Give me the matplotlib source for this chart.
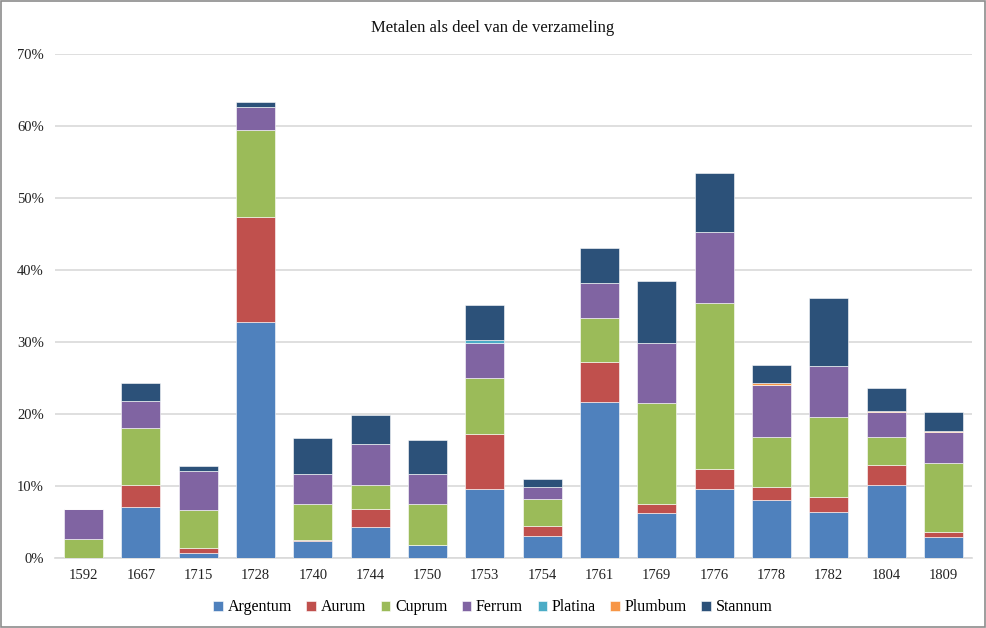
import matplotlib.pyplot as plt
from matplotlib.patches import Rectangle
import numpy as np

years = ['1592', '1667', '1715', '1728', '1740', '1744', '1750', '1753',
         '1754', '1761', '1769', '1776', '1778', '1782', '1804', '1809']

# percentages of the collection
argentum = [0.0, 7.1, 0.75, 32.8, 2.3, 4.25, 1.85, 9.6, 3.0, 21.6, 6.2, 9.6, 8.0, 6.35, 10.2, 2.9]
aurum    = [0.0, 3.1, 0.7, 14.6, 0.25, 2.6, 0.0, 7.6, 1.4, 5.6, 1.3, 2.7, 1.9, 2.15, 2.75, 0.75]
cuprum   = [2.6, 7.8, 5.25, 12.1, 4.95, 3.25, 5.65, 7.75, 3.8, 6.2, 14.0, 23.1, 6.9, 11.1, 3.85, 9.55]
ferrum   = [4.2, 3.8, 5.35, 3.2, 4.15, 5.8, 4.15, 4.95, 1.7, 4.8, 8.3, 9.9, 7.25, 7.1, 3.5, 4.3]
platina  = [0, 0, 0, 0, 0, 0, 0, 0.4, 0, 0, 0, 0, 0, 0, 0, 0]
plumbum  = [0, 0, 0, 0, 0, 0, 0, 0, 0, 0, 0, 0, 0.2, 0, 0.15, 0.2]
stannum  = [0.0, 2.55, 0.7, 0.6, 4.95, 4.0, 4.8, 4.8, 1.1, 4.9, 8.7, 8.2, 2.55, 9.4, 3.15, 2.6]

series = [('Argentum', argentum, '#4F81BD'),
          ('Aurum', aurum, '#C0504D'),
          ('Cuprum', cuprum, '#9BBB59'),
          ('Ferrum', ferrum, '#8064A2'),
          ('Platina', platina, '#4BACC6'),
          ('Plumbum', plumbum, '#F79646'),
          ('Stannum', stannum, '#2C5179')]

plt.rcParams['font.family'] = ['Liberation Serif', 'DejaVu Serif']

fig = plt.figure(figsize=(9.86, 6.28), dpi=100)
ax = fig.add_axes([0.0558, 0.1115, 0.93, 0.8025])

x = np.arange(len(years))
bottom = np.zeros(len(years))
for name, vals, col in series:
    v = np.array(vals) / 100
    ax.bar(x, v, width=0.68, bottom=bottom, color=col, label=name,
           edgecolor='#FFFFFF', linewidth=0.4, zorder=3)
    bottom += v

ax.set_xlim(-0.5, len(years) - 0.5)
ax.set_ylim(0, 0.70)
ax.set_yticks(np.arange(0, 0.71, 0.10))
ax.set_yticklabels([f'{int(round(t * 100))}%' for t in np.arange(0, 0.71, 0.10)])
ax.set_xticks(x)
ax.set_xticklabels(years)
ax.tick_params(axis='both', length=0, labelsize=10.5, colors='#222222')
ax.tick_params(axis='x', pad=8)
ax.tick_params(axis='y', pad=8)
ax.grid(axis='y', color='#D9D9D9', linewidth=1.2, zorder=0)
for s in ['top', 'right', 'left']:
    ax.spines[s].set_visible(False)
ax.spines['bottom'].set_color('#D9D9D9')
ax.spines['bottom'].set_linewidth(1.2)

fig.text(0.5, 0.955, 'Metalen als deel van de verzameling', ha='center', va='center',
         fontsize=12, color='#111111')

fig.legend(loc='center', bbox_to_anchor=(0.5, 0.033), ncol=7, frameon=False,
           fontsize=11.5, handlelength=0.6, handleheight=0.6, handletextpad=0.3,
           columnspacing=0.9)

fig.patches.append(Rectangle((0.001, 0.001), 0.998, 0.998, transform=fig.transFigure,
                             fill=False, edgecolor='#8C8C8C', linewidth=1.2))

fig.savefig('out.png', dpi=100)
